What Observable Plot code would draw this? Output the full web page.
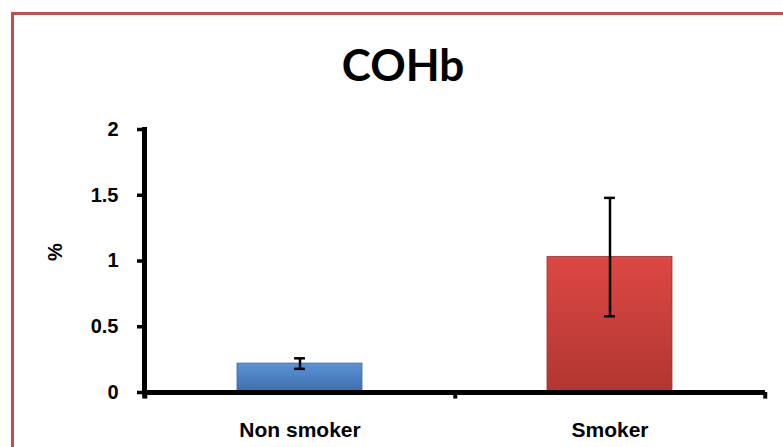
<!DOCTYPE html>
<html>
<head>
<meta charset="utf-8">
<script src="https://cdn.jsdelivr.net/npm/d3@7"></script>
<script src="https://cdn.jsdelivr.net/npm/@observablehq/plot@0.6"></script>
<style>
  html, body { margin: 0; padding: 0; background: #fff; overflow: hidden; }
  #wrap { position: relative; width: 783px; height: 447px; overflow: hidden; }
  #border { position: absolute; left: 11px; top: 12px; width: 800px; height: 500px; border: 3px solid #c0504d; box-sizing: border-box; }
  #title { position: absolute; left: 403px; top: 36px; transform: translateX(-50%); font-family: Lato, "Open Sans", sans-serif; font-weight: bold; font-size: 44px; line-height: 56px; color: #000; white-space: nowrap; }
  #chart { position: absolute; left: 0; top: 0; }
</style>
</head>
<body>
<div id="wrap">
  <div id="border"></div>
  <div id="chart"></div>
  <div id="title">COHb</div>
</div>
<script>
const categories = ["Non smoker", "Smoker"];
const means = [0.22, 1.03];
const errors = [0.04, 0.45];
const yTicks = [0, 0.5, 1, 1.5, 2];
const yLabel = "%";

const data = categories.map((c, i) => ({cat: c, mean: means[i], lo: means[i] - errors[i], hi: means[i] + errors[i]}));

const W = 783, H = 447, mL = 144, mR = 18, mT = 129, mB = 55;
const step = (W - mL - mR) / categories.length;
const pInner = 0.597;
const barW = step * (1 - pInner);
const capInset = (barW - 11) / 2;
const font = '"Liberation Sans", Arial, sans-serif';

const plot = Plot.plot({
  width: W, height: H,
  marginLeft: mL, marginRight: mR, marginTop: mT, marginBottom: mB,
  style: {fontFamily: font, fontWeight: "bold", color: "#000", background: "transparent", overflow: "visible"},
  x: {domain: categories, paddingInner: pInner, paddingOuter: pInner / 2, label: null},
  y: {domain: [0, 2], label: null},
  marks: [
    Plot.barY(data.filter(d => d.cat === categories[0]), {x: "cat", y: "mean", fill: "url(#gBlue)", stroke: "#3a6aa3", strokeWidth: 0.8}),
    Plot.barY(data.filter(d => d.cat === categories[1]), {x: "cat", y: "mean", fill: "url(#gRed)", stroke: "#9e2f2b", strokeWidth: 0.8}),
    Plot.ruleX(data, {x: "cat", y1: "lo", y2: "hi", stroke: "#000", strokeWidth: 2.5}),
    Plot.tickY(data, {x: "cat", y: "hi", stroke: "#000", strokeWidth: 2.5, insetLeft: capInset, insetRight: capInset}),
    Plot.tickY(data, {x: "cat", y: "lo", stroke: "#000", strokeWidth: 2.5, insetLeft: capInset, insetRight: capInset}),
    Plot.ruleY([0], {stroke: "#000", strokeWidth: 5}),
    Plot.frame({anchor: "left", stroke: "#000", strokeWidth: 5}),
    Plot.ruleX(categories, {x: d => d, y1: 0, y2: -0.05, dx: step / 2, stroke: "#000", strokeWidth: 4}),
    Plot.ruleX([categories[0]], {x: d => d, y1: 0, y2: -0.05, dx: -step / 2, stroke: "#000", strokeWidth: 5}),
    Plot.axisY({ticks: yTicks, tickFormat: d => String(d), tickSize: 7, tickPadding: 19, strokeWidth: 3.5, fontSize: 20, label: null}),
    Plot.axisX({tickSize: 0, tickPadding: 30, fontSize: 21, label: null}),
    Plot.text([yLabel], {frameAnchor: "left", dx: -89, rotate: -90, fontSize: 20, fontWeight: "bold", fill: "#000"})
  ]
});

const svg = d3.select(plot);
const defs = svg.insert("defs", ":first-child");
const gb = defs.append("linearGradient").attr("id", "gBlue").attr("x1", 0).attr("y1", 0).attr("x2", 0).attr("y2", 1);
gb.append("stop").attr("offset", "0%").attr("stop-color", "#5b93d6");
gb.append("stop").attr("offset", "100%").attr("stop-color", "#3d6eab");
const gr = defs.append("linearGradient").attr("id", "gRed").attr("x1", 0).attr("y1", 0).attr("x2", 0).attr("y2", 1);
gr.append("stop").attr("offset", "0%").attr("stop-color", "#dc4843");
gr.append("stop").attr("offset", "100%").attr("stop-color", "#b13632");

document.getElementById("chart").appendChild(plot);
</script>
</body>
</html>
